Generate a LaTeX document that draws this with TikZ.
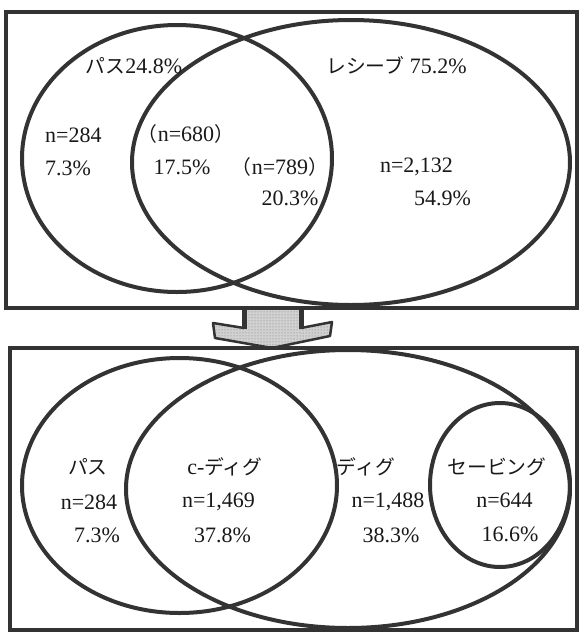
\documentclass[tikz,border=0pt]{standalone}
\usepackage{fontspec}
\setmainfont{Liberation Serif}
\newfontfamily\jp[Scale=0.9]{Noto Sans CJK JP}
\usetikzlibrary{patterns}
\begin{document}
\begin{tikzpicture}[x=1pt,y=-1pt,
  venn/.style={draw=black!80, line width=4pt},
  frame/.style={draw=black!80, line width=3.5pt},
  lbl/.style={inner sep=0pt, font=\fontsize{22}{26}\selectfont, text=black!90}]
\useasboundingbox (0,0) rectangle (580,633);
\fill[white] (0,0) rectangle (580,633);

% arrow between the two frames
\coordinate (sL) at (244,309);
\coordinate (sR) at (301,309);
\fill[black!18] (sL) -- (244,328) -- (213,323) -- (215,338) -- (272,348) -- (330,336) -- (332,322) -- (301,328) -- (sR) -- cycle;
\fill[pattern=dots, pattern color=black!55] (sL) -- (244,328) -- (213,323) -- (215,338) -- (272,348) -- (330,336) -- (332,322) -- (301,328) -- (sR) -- cycle;
\draw[draw=black!80, line width=2.5pt, line join=round] (244,328) -- (213,323) -- (215,338) -- (272,348) -- (330,336) -- (332,322) -- (301,328);
\draw[draw=black!80, line width=5pt] (sL) -- (244,329) (sR) -- (301,329);

% top frame
\draw[frame] (6,12) rectangle (577,308);
\draw[venn] (177,158.5) ellipse [x radius=155pt, y radius=133.5pt];
\draw[venn] (351,162.5) ellipse [x radius=219pt, y radius=142.5pt];

\node[lbl] (t1) at (134,66) {{\jp パス}24.8\%};
\node[lbl] (t2) at (396.5,65) {{\jp レシーブ} 75.2\%};
\node[lbl,anchor=west] (t3) at (45,135) {n=284};
\node[lbl,anchor=west] (t4) at (45,168) {7.3\%};
\node[lbl] (t5) at (186,134) {{\jp （}n=680{\jp ）}};
\node[lbl] (t6) at (182,167) {17.5\%};
\node[lbl] (t7) at (280,167) {{\jp （}n=789{\jp ）}};
\node[lbl] (t8) at (290,198) {20.3\%};
\node[lbl] (t9) at (416.5,167) {n=2,132};
\node[lbl] (t10) at (442.5,198) {54.9\%};

% bottom frame
\draw[frame] (10,348) rectangle (577,630);
\draw[venn] (179.5,485.5) ellipse [x radius=157.5pt, y radius=127.5pt];
\draw[venn] (348,489) ellipse [x radius=222pt, y radius=139pt];
\draw[venn] (500,485) ellipse [x radius=70pt, y radius=82pt];

\node[lbl] (b1) at (88,467) {\jp パス};
\node[lbl] (b2) at (89,502) {n=284};
\node[lbl] (b3) at (97,535) {7.3\%};
\node[lbl] (b4) at (225,467) {c-{\jp ディグ}};
\node[lbl] (b5) at (218.5,502) {n=1,469};
\node[lbl] (b6) at (222.5,535) {37.8\%};
\node[lbl] (b7) at (366,467) {\jp ディグ};
\node[lbl] (b8) at (388,502) {n=1,488};
\node[lbl] (b9) at (391,535) {38.3\%};
\node[lbl] (b10) at (497,467) {\jp セービング};
\node[lbl] (b11) at (504.5,500) {n=644};
\node[lbl] (b12) at (510,534) {16.6\%};
\end{tikzpicture}
\end{document}
